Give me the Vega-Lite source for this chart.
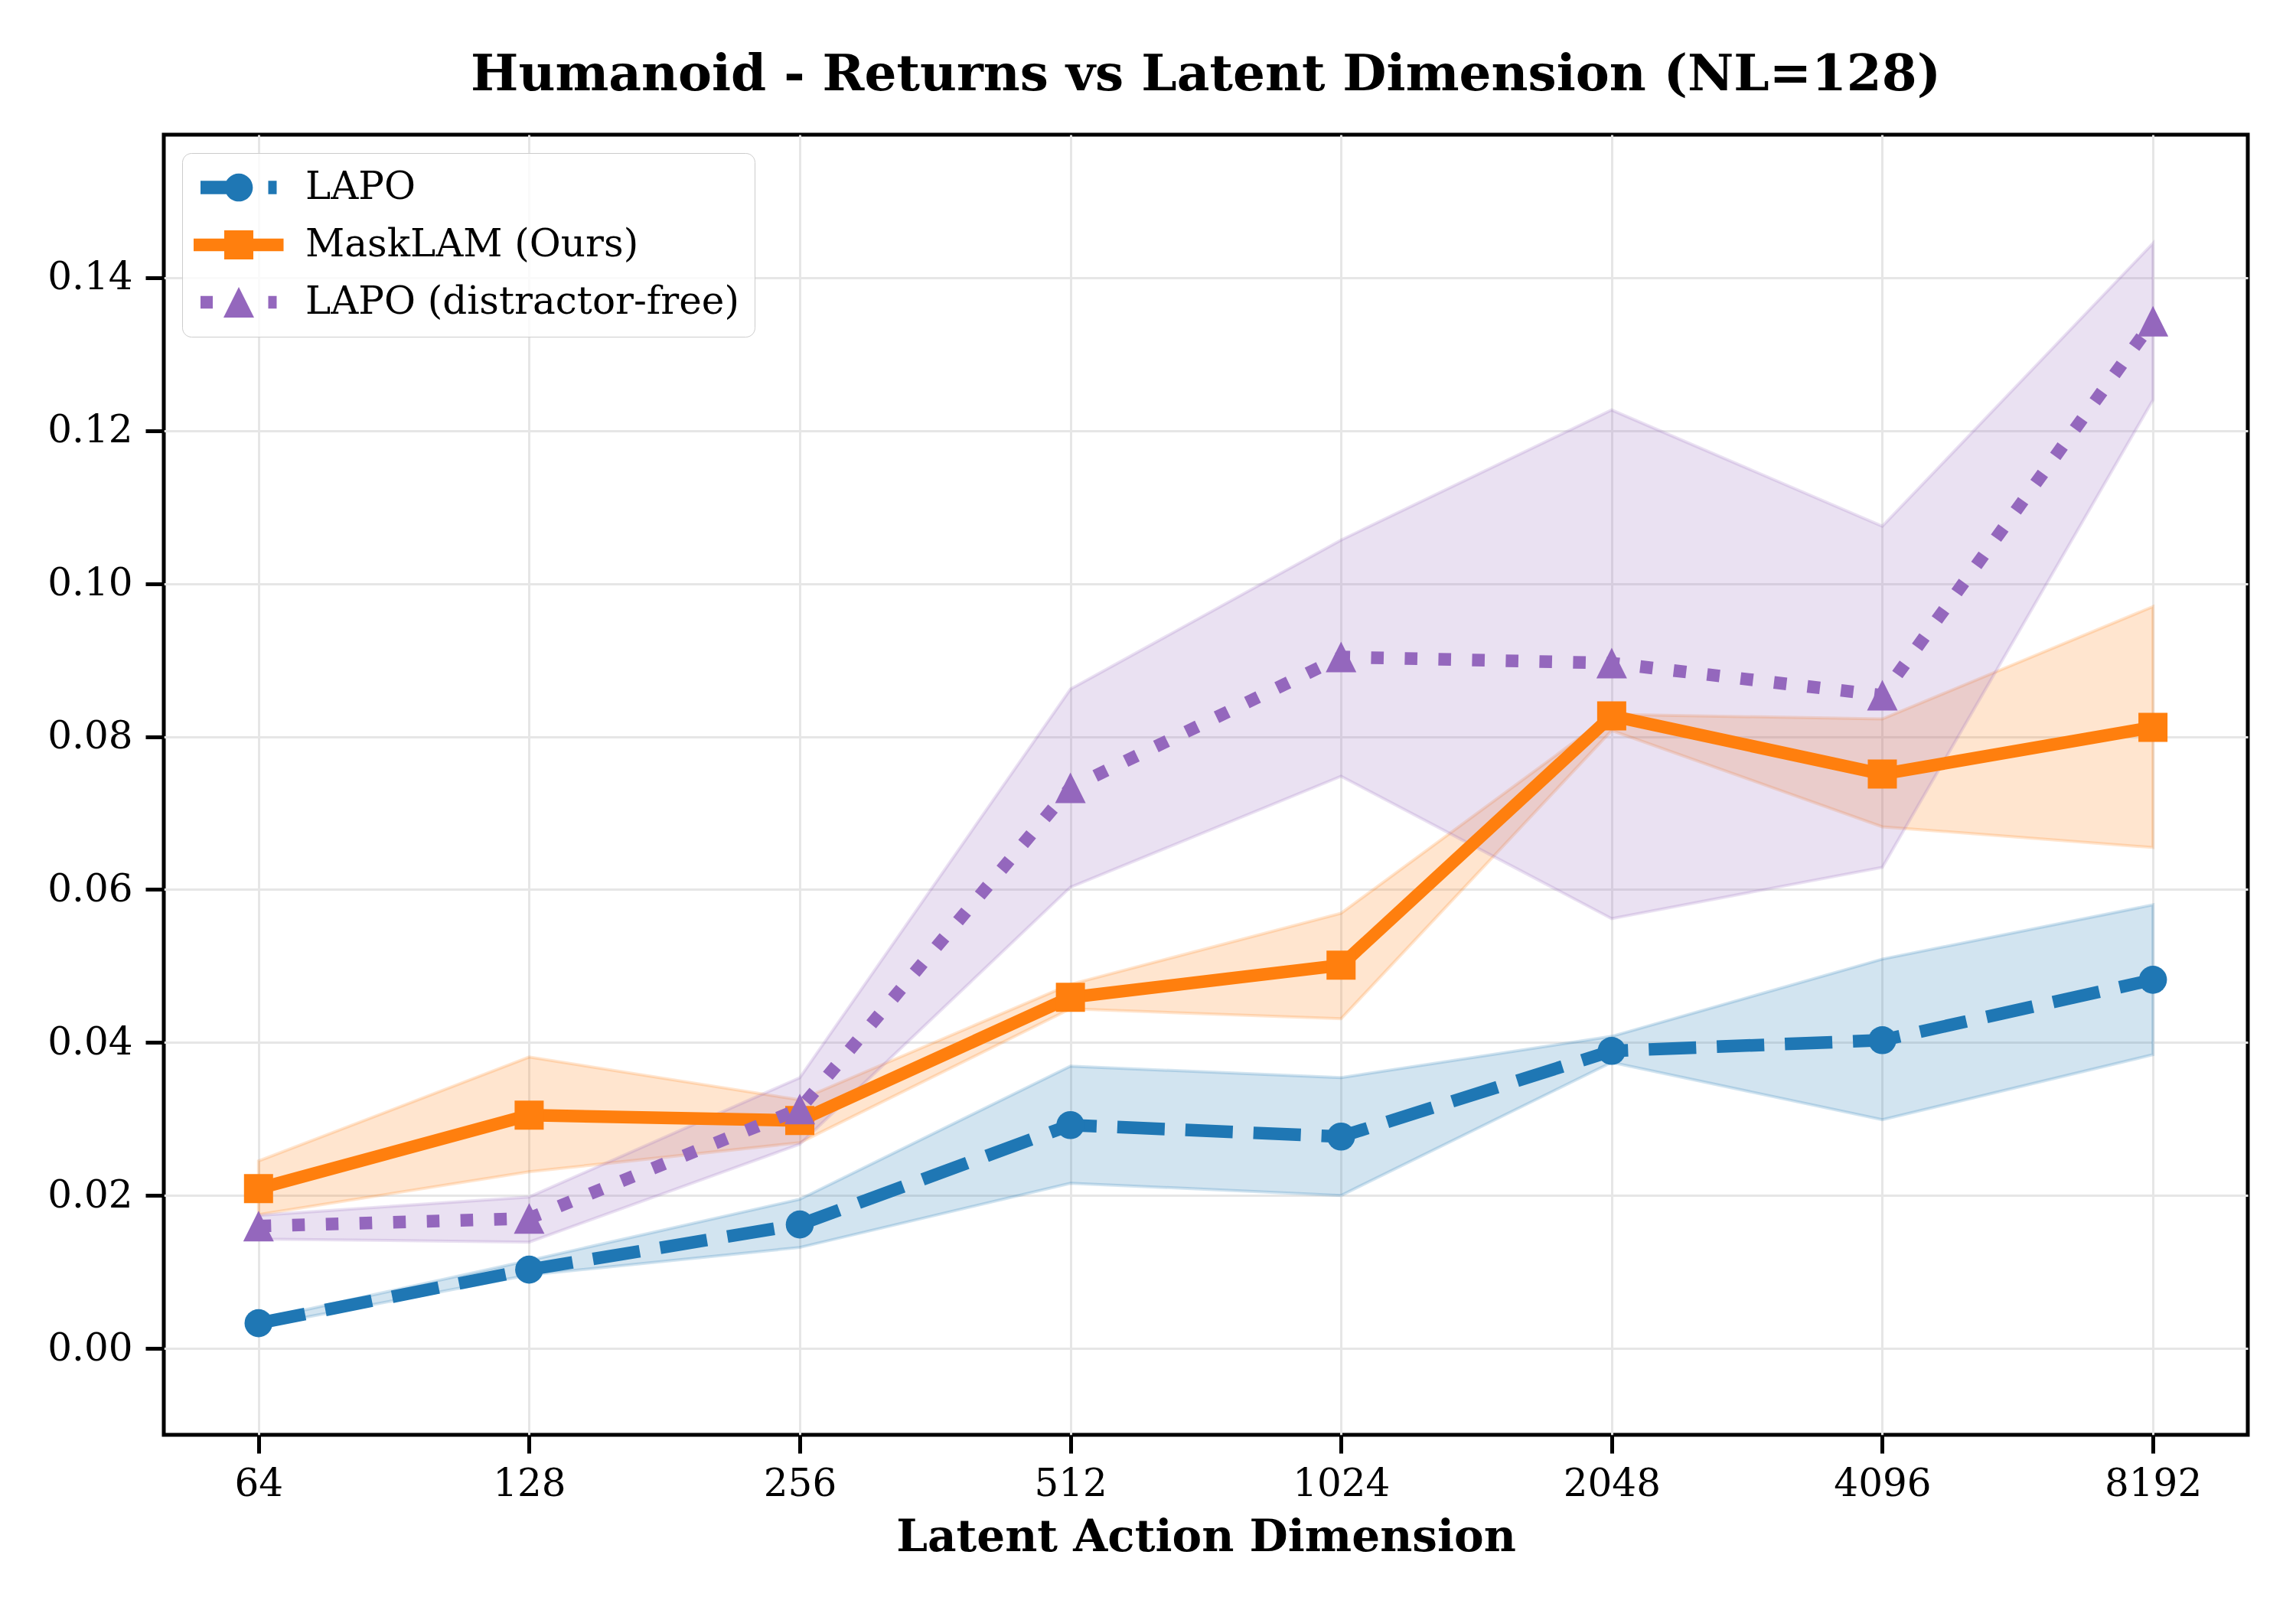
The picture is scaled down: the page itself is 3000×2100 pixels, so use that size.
{
  "$schema": "https://vega.github.io/schema/vega-lite/v6.json",
  "autosize": "none",
  "width": 2723,
  "height": 1699,
  "padding": {"left": 214, "top": 176, "right": 63, "bottom": 225},
  "background": "white",
  "config": {
    "font": "DejaVu Serif",
    "view": {"stroke": "black", "strokeWidth": 5},
    "axis": {
      "domain": false,
      "grid": true,
      "gridColor": "#e6e6e6",
      "gridWidth": 3,
      "ticks": true,
      "tickColor": "black",
      "tickWidth": 5,
      "tickSize": 24,
      "labelFont": "DejaVu Serif",
      "labelFontSize": 50,
      "labelColor": "black",
      "titleFont": "DejaVu Serif",
      "titleColor": "black"
    }
  },
  "title": {
    "text": "Humanoid - Returns vs Latent Dimension (NL=128)",
    "font": "DejaVu Serif",
    "fontSize": 66,
    "fontWeight": "bold",
    "color": "black",
    "anchor": "middle",
    "baseline": "alphabetic",
    "offset": 60,
    "dy": 68
  },
  "data": {
    "values": [
      {"dim": 64, "method": "LAPO", "mean": 0.0033, "lo": 0.0029, "hi": 0.0037},
      {"dim": 128, "method": "LAPO", "mean": 0.0103, "lo": 0.0096, "hi": 0.0115},
      {"dim": 256, "method": "LAPO", "mean": 0.0162, "lo": 0.0132, "hi": 0.0195},
      {"dim": 512, "method": "LAPO", "mean": 0.0292, "lo": 0.0216, "hi": 0.0369},
      {"dim": 1024, "method": "LAPO", "mean": 0.0277, "lo": 0.0200, "hi": 0.0354},
      {"dim": 2048, "method": "LAPO", "mean": 0.0389, "lo": 0.0374, "hi": 0.0408},
      {"dim": 4096, "method": "LAPO", "mean": 0.0403, "lo": 0.0299, "hi": 0.0509},
      {"dim": 8192, "method": "LAPO", "mean": 0.0482, "lo": 0.0384, "hi": 0.0580},
      {"dim": 64, "method": "MaskLAM (Ours)", "mean": 0.0209, "lo": 0.0175, "hi": 0.0245},
      {"dim": 128, "method": "MaskLAM (Ours)", "mean": 0.0305, "lo": 0.0231, "hi": 0.0381},
      {"dim": 256, "method": "MaskLAM (Ours)", "mean": 0.0298, "lo": 0.0269, "hi": 0.0325},
      {"dim": 512, "method": "MaskLAM (Ours)", "mean": 0.0459, "lo": 0.0444, "hi": 0.0476},
      {"dim": 1024, "method": "MaskLAM (Ours)", "mean": 0.0501, "lo": 0.0431, "hi": 0.0569},
      {"dim": 2048, "method": "MaskLAM (Ours)", "mean": 0.0827, "lo": 0.0808, "hi": 0.0829},
      {"dim": 4096, "method": "MaskLAM (Ours)", "mean": 0.0751, "lo": 0.0682, "hi": 0.0823},
      {"dim": 8192, "method": "MaskLAM (Ours)", "mean": 0.0812, "lo": 0.0655, "hi": 0.0970},
      {"dim": 64, "method": "LAPO (distractor-free)", "mean": 0.0160, "lo": 0.0143, "hi": 0.0174},
      {"dim": 128, "method": "LAPO (distractor-free)", "mean": 0.0170, "lo": 0.0139, "hi": 0.0198},
      {"dim": 256, "method": "LAPO (distractor-free)", "mean": 0.0313, "lo": 0.0267, "hi": 0.0354},
      {"dim": 512, "method": "LAPO (distractor-free)", "mean": 0.0733, "lo": 0.0603, "hi": 0.0862},
      {"dim": 1024, "method": "LAPO (distractor-free)", "mean": 0.0904, "lo": 0.0748, "hi": 0.1057},
      {"dim": 2048, "method": "LAPO (distractor-free)", "mean": 0.0896, "lo": 0.0562, "hi": 0.1227},
      {"dim": 4096, "method": "LAPO (distractor-free)", "mean": 0.0854, "lo": 0.0629, "hi": 0.1075},
      {"dim": 8192, "method": "LAPO (distractor-free)", "mean": 0.1343, "lo": 0.1240, "hi": 0.1445}
    ]
  },
  "encoding": {
    "x": {
      "field": "dim",
      "type": "quantitative",
      "scale": {"type": "log", "base": 2, "domain": [50.21, 10444], "nice": false, "zero": false},
      "axis": {
        "values": [64, 128, 256, 512, 1024, 2048, 4096, 8192],
        "format": "d",
        "labelPadding": 15,
        "labelFlush": false,
        "labelOverlap": false,
        "title": "Latent Action Dimension",
        "titleFontSize": 58,
        "titleFontWeight": "bold",
        "titleBaseline": "alphabetic",
        "titleY": 151
      }
    },
    "y": {
      "field": "mean",
      "type": "quantitative",
      "scale": {"domain": [-0.0113, 0.1587], "nice": false, "zero": false},
      "axis": {
        "values": [0, 0.02, 0.04, 0.06, 0.08, 0.1, 0.12, 0.14],
        "format": ".2f",
        "labelPadding": 17,
        "labelFlush": false,
        "labelOverlap": false,
        "title": null
      }
    }
  },
  "layer": [
    {
      "transform": [{"filter": "datum.method === 'LAPO'"}],
      "mark": {"type": "area", "fill": "#1f77b4", "fillOpacity": 0.2, "stroke": "#1f77b4", "strokeOpacity": 0.2, "strokeWidth": 4},
      "encoding": {"y": {"field": "lo", "type": "quantitative"}, "y2": {"field": "hi"}}
    },
    {
      "transform": [{"filter": "datum.method === 'MaskLAM (Ours)'"}],
      "mark": {"type": "area", "fill": "#ff7f0e", "fillOpacity": 0.2, "stroke": "#ff7f0e", "strokeOpacity": 0.2, "strokeWidth": 4},
      "encoding": {"y": {"field": "lo", "type": "quantitative"}, "y2": {"field": "hi"}}
    },
    {
      "transform": [{"filter": "datum.method === 'LAPO (distractor-free)'"}],
      "mark": {"type": "area", "fill": "#9467bd", "fillOpacity": 0.2, "stroke": "#9467bd", "strokeOpacity": 0.2, "strokeWidth": 4},
      "encoding": {"y": {"field": "lo", "type": "quantitative"}, "y2": {"field": "hi"}}
    },
    {
      "transform": [{"filter": "datum.method === 'LAPO'"}],
      "mark": {"type": "line", "color": "#1f77b4", "strokeWidth": 16.5, "strokeDash": [62, 27], "strokeCap": "butt", "strokeJoin": "round"},
      "encoding": {}
    },
    {
      "transform": [{"filter": "datum.method === 'LAPO'"}],
      "mark": {"type": "point", "shape": "circle", "filled": true, "color": "#1f77b4", "opacity": 1, "size": 1340, "strokeWidth": 0},
      "encoding": {}
    },
    {
      "transform": [{"filter": "datum.method === 'MaskLAM (Ours)'"}],
      "mark": {"type": "line", "color": "#ff7f0e", "strokeWidth": 16.5, "strokeCap": "square", "strokeJoin": "round"},
      "encoding": {}
    },
    {
      "transform": [{"filter": "datum.method === 'MaskLAM (Ours)'"}],
      "mark": {"type": "point", "shape": "square", "filled": true, "color": "#ff7f0e", "opacity": 1, "size": 1444, "strokeWidth": 0},
      "encoding": {}
    },
    {
      "transform": [{"filter": "datum.method === 'LAPO (distractor-free)'"}],
      "mark": {"type": "line", "color": "#9467bd", "strokeWidth": 16.5, "strokeDash": [16.5, 27.5], "strokeCap": "butt", "strokeJoin": "round"},
      "encoding": {}
    },
    {
      "transform": [{"filter": "datum.method === 'LAPO (distractor-free)'"}],
      "mark": {"type": "point", "shape": "M0,-1L1,1L-1,1Z", "filled": true, "color": "#9467bd", "opacity": 1, "size": 1600, "strokeWidth": 0},
      "encoding": {}
    },
    {
      "transform": [{"filter": "datum.dim < 0"}],
      "mark": {"type": "point", "filled": true, "opacity": 1, "strokeWidth": 0},
      "encoding": {
        "color": {
          "field": "method",
          "type": "nominal",
          "scale": {
            "domain": ["LAPO", "MaskLAM (Ours)", "LAPO (distractor-free)"],
            "range": ["#1f77b4", "#ff7f0e", "#9467bd"]
          },
          "legend": {
            "title": null,
            "orient": "top-left",
            "offset": 24,
            "padding": 20,
            "fillColor": "rgba(255,255,255,0.8)",
            "strokeColor": "#cccccc",
            "cornerRadius": 12,
            "symbolSize": 1764,
            "symbolStrokeWidth": 0,
            "symbolOffset": 29,
            "labelFont": "DejaVu Serif",
            "labelFontSize": 50,
            "labelColor": "black",
            "labelOffset": 62,
            "labelLimit": 1000,
            "rowPadding": 25,
            "encode": {"legend": {"update": {"strokeWidth": {"value": 4}}}}
          }
        },
        "shape": {
          "field": "method",
          "type": "nominal",
          "scale": {
            "domain": ["LAPO", "MaskLAM (Ours)", "LAPO (distractor-free)"],
            "range": [
              "M-2.381,-0.421H-0.476V0.421H-2.381Z M1.833,-0.421H2.357V0.421H1.833Z M-0.874,0A0.874,0.874 0 1,1 0.874,0A0.874,0.874 0 1,1 -0.874,0Z",
              "M-2.81,-0.398H2.786V0.398H-2.81Z M-0.905,-0.905H0.905V0.905H-0.905Z",
              "M-2.381,-0.398H-1.619V0.398H-2.381Z M1.833,-0.398H2.357V0.398H1.833Z M0,-0.952L0.952,0.952L-0.952,0.952Z"
            ]
          }
        }
      }
    }
  ]
}
